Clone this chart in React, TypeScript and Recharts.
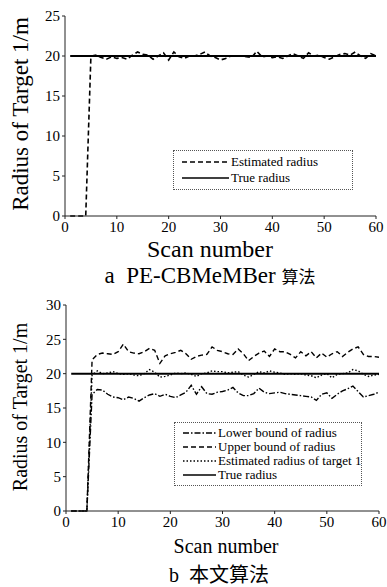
import { Line, LineChart, XAxis, YAxis } from 'recharts'

// scan index 1..60
const SCAN = Array.from({ length: 60 }, (_, i) => i + 1)
const X_TICKS = [0, 10, 20, 30, 40, 50, 60]

// (a) PE-CBMeMBer
const EST_A = [
  0, 0, 0, 0, 20.0, 20.1, 19.8, 19.6, 19.9, 19.7,
  19.8, 19.6, 20.1, 20.5, 20.2, 20.1, 19.6, 20.0, 20.4, 19.5,
  20.5, 19.9, 19.7, 20.0, 20.0, 20.2, 20.5, 20.0, 19.8, 19.5,
  19.7, 20.0, 20.0, 20.0, 19.9, 19.8, 20.6, 19.9, 20.0, 19.8,
  19.9, 19.7, 20.0, 20.3, 20.0, 19.7, 20.4, 20.0, 20.1, 19.8,
  19.6, 19.9, 20.2, 20.3, 20.1, 20.5, 20.0, 19.7, 20.3, 20.0,
]

// (b) proposed algorithm
const LOWER_B = [
  0, 0, 0, 0, 17.0, 17.7, 17.6, 17.0, 16.6, 16.5,
  16.2, 16.6, 16.4, 16.0, 16.5, 16.9, 17.1, 16.7, 17.0, 16.7,
  16.5, 16.9, 17.3, 18.3, 17.0, 18.1, 17.1, 17.0, 17.3, 17.4,
  17.6, 18.0, 17.2, 16.8, 16.8, 17.1, 17.9, 17.3, 17.1, 17.2,
  17.3, 17.1, 17.0, 16.9, 16.8, 16.7, 16.6, 16.1, 17.0, 17.2,
  16.4, 17.0, 17.5, 17.8, 18.2, 17.4, 16.6, 16.8, 17.0, 17.3,
]
const UPPER_B = [
  0, 0, 0, 0, 22.0, 22.8, 23.0, 22.9, 22.8, 23.2,
  24.3, 23.2, 23.0, 22.9, 23.2, 23.7, 23.4, 21.5, 22.6, 22.9,
  23.1, 23.4, 22.9, 22.1, 22.5, 22.7, 22.8, 23.9, 23.4, 23.2,
  22.9, 22.8, 23.6, 22.9, 21.9, 22.5, 23.0, 23.3, 22.5, 23.6,
  23.2, 23.2, 22.8, 22.3, 23.2, 22.6, 23.2, 22.3, 23.0, 22.4,
  22.9, 23.2, 22.5, 23.1, 23.6, 23.9, 22.8, 22.5, 22.5, 22.4,
]
const EST_B = [
  0, 0, 0, 0, 19.8, 20.4, 20.0, 20.1, 20.3, 20.0,
  19.9, 20.0, 19.8, 19.7, 20.0, 20.6, 20.2, 19.5, 19.6, 19.8,
  20.1, 20.0, 20.1, 19.9, 19.6, 20.0, 20.1, 20.4, 20.3, 20.3,
  20.1, 20.2, 20.3, 19.8, 19.5, 19.9, 20.3, 20.1, 20.4, 20.2,
  20.1, 19.9, 20.0, 19.9, 20.0, 19.8, 19.7, 19.4, 19.8, 20.0,
  19.4, 19.9, 20.0, 20.1, 20.6, 20.4, 19.9, 19.6, 19.8, 19.9,
]

const TRUE_X = [1, 60]
const TRUE_R = [20, 20]

const dataA = SCAN.map((x, i) => ({ x, est: EST_A[i] }))
const dataB = SCAN.map((x, i) => ({ x, lower: LOWER_B[i], upper: UPPER_B[i], est: EST_B[i] }))
const trueLine = TRUE_X.map((x, i) => ({ x, r: TRUE_R[i] }))

const SERIF = '"Liberation Serif", "Times New Roman", serif'
const CJK = '"Noto Sans CJK SC", sans-serif'
const TICK = { fill: '#000', fontSize: 15, fontFamily: SERIF }
const AXIS_LINE = { stroke: '#222', strokeWidth: 1 }

const DASH = '5 3'
const DASH_DOT = '6 2 1.5 2'
const DOT = '1.5 2'

function Sample({ width, dash }: { width: number; dash?: string }) {
  return (
    <svg width={width} height={8} style={{ display: 'block', flex: 'none' }}>
      <line x1={0} y1={4} x2={width} y2={4} stroke="#000" strokeWidth={1.6} strokeDasharray={dash} />
    </svg>
  )
}

function LegendBox({
  left, top, width, items, sample, rowH,
}: {
  left: number; top: number; width: number
  items: { label: string; dash?: string }[]
  sample: number; rowH: number
}) {
  return (
    <div style={{
      position: 'absolute', left, top, width, boxSizing: 'border-box',
      border: '1px dotted #555', background: '#fff', padding: '3px 6px 3px 8px',
      fontFamily: SERIF, fontSize: 13, color: '#000',
    }}>
      {items.map((it) => (
        <div key={it.label} style={{ display: 'flex', alignItems: 'center', height: rowH, gap: 2, whiteSpace: 'nowrap' }}>
          <Sample width={sample} dash={it.dash} />
          <span>{it.label}</span>
        </div>
      ))}
    </div>
  )
}

function Text({ x, y, size, children, rotate }: { x: number; y: number; size: number; children: React.ReactNode; rotate?: boolean }) {
  return (
    <div style={{
      position: 'absolute', left: x, top: y, transform: `translate(-50%, -50%)${rotate ? ' rotate(-90deg)' : ''}`,
      fontFamily: SERIF, fontSize: size, whiteSpace: 'pre', color: '#000', lineHeight: 1,
    }}>{children}</div>
  )
}

export default function App() {
  return (
    <div style={{ position: 'relative', width: 387, height: 587, background: '#fff', overflow: 'hidden', fontFamily: SERIF }}>
      <style>{'body{margin:0}'}</style>

      <div style={{ position: 'absolute', left: 0, top: 0 }}>
        <LineChart width={387} height={290} data={dataA} margin={{ top: 16, right: 11, bottom: 44, left: 0 }}
          style={{ fontFamily: SERIF }}>
          <XAxis dataKey="x" type="number" domain={[0, 60]} ticks={X_TICKS} tick={TICK} tickSize={3}
            axisLine={AXIS_LINE} tickLine={AXIS_LINE} />
          <YAxis type="number" domain={[0, 25]} ticks={[0, 5, 10, 15, 20, 25]} width={65} tick={TICK} tickSize={3}
            axisLine={AXIS_LINE} tickLine={AXIS_LINE} />
          <Line data={trueLine} dataKey="r" stroke="#000" strokeWidth={2} dot={false} isAnimationActive={false} />
          <Line dataKey="est" stroke="#000" strokeWidth={1.6} strokeDasharray={DASH} dot={false} isAnimationActive={false} />
        </LineChart>
      </div>
      <Text x={20} y={114} size={23} rotate>Radius of Target 1/m</Text>
      <Text x={210} y={249} size={24}>Scan number</Text>
      <Text x={210} y={275} size={23}>a  PE-CBMeMBer <span style={{ fontFamily: CJK, fontSize: 17 }}>算法</span></Text>
      <LegendBox left={173} top={150} width={180} sample={47} rowH={16}
        items={[{ label: 'Estimated radius', dash: DASH }, { label: 'True radius' }]} />

      <div style={{ position: 'absolute', left: 0, top: 290 }}>
        <LineChart width={387} height={297} data={dataB} margin={{ top: 15, right: 8, bottom: 46, left: 0 }}
          style={{ fontFamily: SERIF }}>
          <XAxis dataKey="x" type="number" domain={[0, 60]} ticks={X_TICKS} tick={TICK} tickSize={3}
            axisLine={AXIS_LINE} tickLine={AXIS_LINE} />
          <YAxis type="number" domain={[0, 30]} ticks={[0, 5, 10, 15, 20, 25, 30]} width={66} tick={TICK} tickSize={3}
            axisLine={AXIS_LINE} tickLine={AXIS_LINE} />
          <Line data={trueLine} dataKey="r" stroke="#000" strokeWidth={2} dot={false} isAnimationActive={false} />
          <Line dataKey="lower" stroke="#000" strokeWidth={1.4} strokeDasharray={DASH_DOT} dot={false} isAnimationActive={false} />
          <Line dataKey="upper" stroke="#000" strokeWidth={1.4} strokeDasharray={DASH} dot={false} isAnimationActive={false} />
          <Line dataKey="est" stroke="#000" strokeWidth={1.4} strokeDasharray={DOT} dot={false} isAnimationActive={false} />
        </LineChart>
      </div>
      <Text x={20} y={407} size={20} rotate>Radius of Target 1/m</Text>
      <Text x={226} y={546} size={20}>Scan number</Text>
      <Text x={219} y={574} size={20}>b  <span style={{ fontFamily: CJK, fontSize: 20 }}>本文算法</span></Text>
      <LegendBox left={174} top={422} width={188} sample={33} rowH={14}
        items={[
          { label: 'Lower bound of radius', dash: DASH_DOT },
          { label: 'Upper bound of radius', dash: DASH },
          { label: 'Estimated radius of target 1', dash: DOT },
          { label: 'True radius' },
        ]} />
    </div>
  )
}
